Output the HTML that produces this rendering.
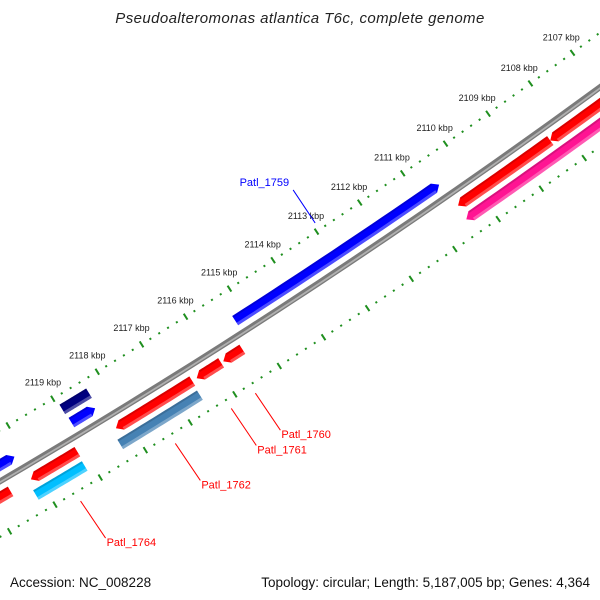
<!DOCTYPE html>
<html><head><meta charset="utf-8"><style>
html,body{margin:0;padding:0;background:#fff;}
svg{display:block;font-family:"Liberation Sans",sans-serif;}
</style></head><body>
<svg id="map" width="600" height="600" viewBox="0 0 600 600">
<text x="300" y="23" text-anchor="middle" font-size="15" letter-spacing="0.4" font-style="italic" fill="#222">Pseudoalteromonas atlantica T6c, complete genome</text>
<g id="ticks"></g>
<g id="backbone"></g>
<g id="genes"></g>
<g id="labels"></g>
<text x="10" y="587" font-size="13.5" fill="#111">Accession: NC_008228</text>
<text x="590" y="587" text-anchor="end" font-size="13.5" fill="#111">Topology: circular; Length: 5,187,005 bp; Genes: 4,364</text>
</svg>
<script>
const geneNames=["Patl_1759","","","","Patl_1760","Patl_1761","Patl_1762","Patl_1762b","","","Patl_1764","Patl_1764b","",""];
const geneStart=[2110.55,2106.0,2108.33,2106.0,2115.42,2115.9,2116.55,2116.57,2118.35,2118.4,2119.12,2119.14,2120.2,2120.6];
const geneEnd=[2115.24,2108.33,2110.48,2110.5,2115.85,2116.45,2118.26,2118.35,2118.95,2118.93,2120.15,2120.22,2120.7,2121.6];
const geneStrand=[1,-1,-1,-1,-1,-1,-1,0,0,1,-1,0,1,-1];
const geneTrack=[-1,1,1,2,1,1,1,2,-2,-1,1,2,-1,1];
const geneColor=["#0000ff","#ff0000","#ff0000","#ff1493","#ff0000","#ff0000","#ff0000","#4682b4","#000080","#0000ff","#ff0000","#00bfff","#0000ff","#ff0000"];
const labelNames=["Patl_1759","Patl_1760","Patl_1761","Patl_1762","Patl_1764"];
const labelKbp=[2112.93,2115.66,2116.2,2117.45,2119.55];
const tickLabels=[2107,2108,2109,2110,2111,2112,2113,2114,2115,2116,2117,2118,2119];

const NS="http://www.w3.org/2000/svg";
const CX=-3544, CY=-5568, RB=7011, ROUT=6967, RIN=7059;
const TR={"-2":RB-30,"-1":RB-14,"1":RB+14,"2":RB+30};
function ang(k){return (56.35+(k-2113)*0.428)*Math.PI/180;}
function pt(r,k){const a=ang(k);return [CX+r*Math.cos(a),CY+r*Math.sin(a)];}
function mk(tag,attrs,parent){const e=document.createElementNS(NS,tag);for(const k in attrs)e.setAttribute(k,attrs[k]);parent.appendChild(e);return e;}
function arcPts(r,k1,k2,n){const p=[];for(let i=0;i<=n;i++){p.push(pt(r,k1+(k2-k1)*i/n));}return p;}
function fmt(p){return p.map(q=>q[0].toFixed(2)+","+q[1].toFixed(2)).join(" ");}

const tg=document.getElementById("ticks");
[ROUT,RIN].forEach((R,ri)=>{
  for(let i=21050;i<=21230;i+=2){
    const k=i/10; const major=(i%10===0);
    const hl=major?3.5:1;
    const a=pt(R-hl,k), b=pt(R+hl,k);
    const t=mk("line",{x1:a[0],y1:a[1],x2:b[0],y2:b[1],stroke:"#1f8f1f","stroke-width":2},tg);
    
    
  }
});
tickLabels.forEach(k=>{
  const p=pt(ROUT-19,k);
  const t=mk("text",{x:p[0],y:p[1]+3,"text-anchor":"middle","font-size":"9",fill:"#222"},tg);
  t.textContent=k+" kbp";
  
  
});

const bg=document.getElementById("backbone");
const bp=arcPts(RB,2104,2123,60);
const b1=mk("polyline",{points:fmt(bp),fill:"none",stroke:"#7a7a7a","stroke-width":6},bg);


const b2=mk("polyline",{points:fmt(arcPts(RB+0.8,2104,2123,60)),fill:"none",stroke:"#b0b0b0","stroke-width":1.8},bg);



const gg=document.getElementById("genes");
const HW=5.5, HEAD=0.12;
for(let i=0;i<geneStart.length;i++){
  const r=TR[geneTrack[i]], s=geneStart[i], e=geneEnd[i], st=geneStrand[i];
  let outer, inner, tip=null;
  let a1=s,a2=e;
  if(st===1){a1=s+HEAD;tip=pt(r,s);}
  if(st===-1){a2=e-HEAD;tip=pt(r,e);}
  outer=arcPts(r-HW,a1,a2,20); inner=arcPts(r+HW,a1,a2,20);
  let poly=[];
  if(st===1){poly=[tip].concat(outer).concat(inner.slice().reverse());}
  else if(st===-1){poly=outer.concat([tip]).concat(inner.slice().reverse());}
  else{poly=outer.concat(inner.slice().reverse());}
  const g=mk("g",{},gg);
  
  
  const p=mk("polygon",{points:fmt(poly),fill:geneColor[i]},g);
  
  
  const hl=mk("polygon",{points:fmt(arcPts(r+HW-3,a1,a2,20).concat(inner.slice().reverse())),fill:"#fff","fill-opacity":0.3},g);
  
  
  const dk=mk("polygon",{points:fmt(outer.concat(arcPts(r-HW+2,a1,a2,20).reverse())),fill:"#000","fill-opacity":0.15},g);
  
  
}

const lg=document.getElementById("labels");
labelNames.forEach((n,i)=>{
  const k=labelKbp[i];
  let a,b,tx,ty,anchor,col;
  if(i===0){a=pt(ROUT-8,k);b=[a[0]-22,a[1]-33];tx=b[0]-4;ty=b[1]-4;anchor="end";col="#0000ff";}
  else{a=pt(RIN+10,k);b=[a[0]+25,a[1]+37];tx=b[0]+1;ty=b[1]+8;anchor="start";col="#ff0000";}
  const l=mk("line",{x1:a[0],y1:a[1],x2:b[0],y2:b[1],stroke:col,"stroke-width":1},lg);
  
  
  const t=mk("text",{x:tx,y:ty,"text-anchor":anchor,"font-size":"11",fill:col},lg);
  t.textContent=n;
  
  
});
</script>
</body></html>
